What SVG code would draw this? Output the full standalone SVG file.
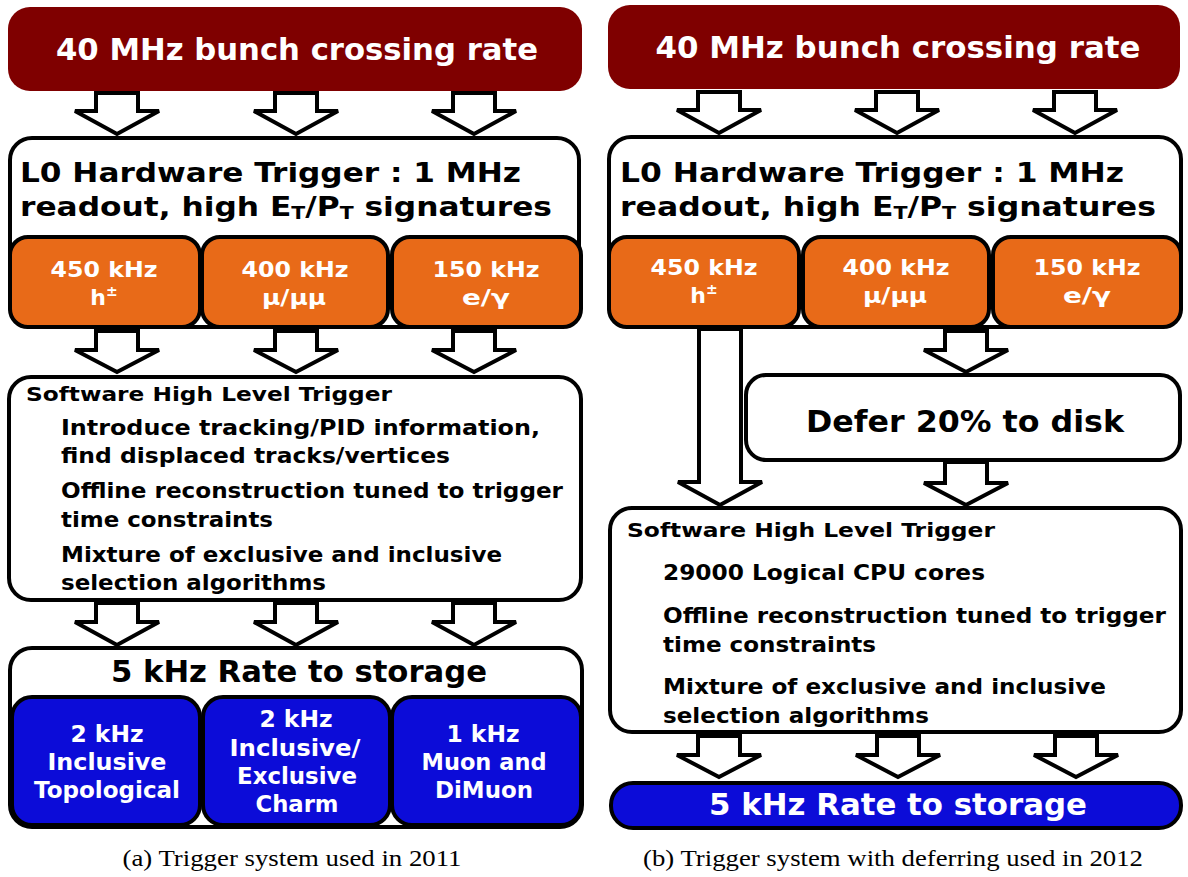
<svg xmlns="http://www.w3.org/2000/svg" width="1188" height="877" viewBox="0 0 1188 877">
<style>
.bg{fill:#ffffff}
.red{fill:#7f0000}
.wbox{fill:#ffffff;stroke:#000;stroke-width:4}
.org{fill:#e86a18;stroke:#000;stroke-width:4}
.blu{fill:#0c0cd8;stroke:#000;stroke-width:4}
.arr{fill:#ffffff;stroke:#000;stroke-width:4;stroke-linejoin:miter}
text{font-family:"DejaVu Sans",Verdana,sans-serif;font-weight:bold}
.w{fill:#ffffff}
.k{fill:#000000}
.c{text-anchor:middle}
.cap{font-family:"Liberation Serif","Times New Roman",serif;font-weight:normal;font-size:23px;fill:#000;text-anchor:middle}
</style>
<rect class="bg" x="0" y="0" width="1188" height="877"/>

<!-- LEFT PANEL -->
<g id="a-top">
<rect class="red" x="8" y="7" width="574" height="84" rx="22"/>
<text class="w c" x="297" y="60" font-size="30" textLength="482" lengthAdjust="spacingAndGlyphs">40 MHz bunch crossing rate</text>
</g>
<g id="a-l0">
<rect class="wbox" x="10" y="138" width="569" height="189" rx="22"/>
<text class="k" x="20" y="182" font-size="26" textLength="501" lengthAdjust="spacingAndGlyphs">L0 Hardware Trigger : 1 MHz</text>
<text class="k" x="20" y="216" font-size="26" textLength="532" lengthAdjust="spacingAndGlyphs">readout, high E<tspan font-size="17" dy="3">T</tspan><tspan dy="-3">/P</tspan><tspan font-size="17" dy="3">T</tspan><tspan dy="-3"> signatures</tspan></text>
</g>
<g id="a-h">
<rect class="org" x="10" y="237" width="190" height="90" rx="18"/>
<text class="w c" x="104" y="277" font-size="21" textLength="107" lengthAdjust="spacingAndGlyphs">450 kHz</text>
<text class="w c" x="104" y="305" font-size="22">h<tspan font-size="14" dy="-9">±</tspan></text>
</g>
<g id="a-mu">
<rect class="org" x="202" y="237" width="186" height="90" rx="18"/>
<text class="w c" x="295" y="277" font-size="21" textLength="107" lengthAdjust="spacingAndGlyphs">400 kHz</text>
<text class="w c" x="294" y="305" font-size="22" textLength="64" lengthAdjust="spacingAndGlyphs">μ/μμ</text>
</g>
<g id="a-e">
<rect class="org" x="392" y="237" width="189" height="90" rx="18"/>
<text class="w c" x="486" y="277" font-size="21" textLength="107" lengthAdjust="spacingAndGlyphs">150 kHz</text>
<text class="w c" x="486" y="305" font-size="22" textLength="48" lengthAdjust="spacingAndGlyphs">e/γ</text>
</g>
<g id="a-hlt">
<rect class="wbox" x="9" y="377" width="572" height="223" rx="22"/>
<text class="k" x="26" y="401" font-size="20" textLength="366" lengthAdjust="spacingAndGlyphs">Software High Level Trigger</text>
<text class="k" x="61" y="435" font-size="21" textLength="479" lengthAdjust="spacingAndGlyphs">Introduce tracking/PID information,</text>
<text class="k" x="61" y="463" font-size="21" textLength="389" lengthAdjust="spacingAndGlyphs">find displaced tracks/vertices</text>
<text class="k" x="61" y="498" font-size="21" textLength="502" lengthAdjust="spacingAndGlyphs">Offline reconstruction tuned to trigger</text>
<text class="k" x="61" y="527" font-size="21" textLength="212" lengthAdjust="spacingAndGlyphs">time constraints</text>
<text class="k" x="61" y="562" font-size="21" textLength="441" lengthAdjust="spacingAndGlyphs">Mixture of exclusive and inclusive</text>
<text class="k" x="61" y="590" font-size="21" textLength="265" lengthAdjust="spacingAndGlyphs">selection algorithms</text>
</g>
<g id="a-storage">
<rect class="wbox" x="10" y="648" width="572" height="179" rx="22"/>
<text class="k c" x="299" y="682" font-size="30" textLength="376" lengthAdjust="spacingAndGlyphs">5 kHz Rate to storage</text>
</g>
<g id="a-topo">
<rect class="blu" x="12" y="697" width="188" height="128" rx="20"/>
<text class="w c" x="107" y="742" font-size="23" textLength="73" lengthAdjust="spacingAndGlyphs">2 kHz</text>
<text class="w c" x="107" y="770" font-size="23" textLength="119" lengthAdjust="spacingAndGlyphs">Inclusive</text>
<text class="w c" x="107" y="798" font-size="23" textLength="146" lengthAdjust="spacingAndGlyphs">Topological</text>
</g>
<g id="a-charm">
<rect class="blu" x="203" y="697" width="187" height="128" rx="20"/>
<text class="w c" x="296" y="727" font-size="23" textLength="73" lengthAdjust="spacingAndGlyphs">2 kHz</text>
<text class="w c" x="295" y="756" font-size="23" textLength="131" lengthAdjust="spacingAndGlyphs">Inclusive/</text>
<text class="w c" x="297" y="784" font-size="23" textLength="120" lengthAdjust="spacingAndGlyphs">Exclusive</text>
<text class="w c" x="297" y="812" font-size="23" textLength="83" lengthAdjust="spacingAndGlyphs">Charm</text>
</g>
<g id="a-muon">
<rect class="blu" x="392" y="697" width="189" height="128" rx="20"/>
<text class="w c" x="483" y="742" font-size="23" textLength="73" lengthAdjust="spacingAndGlyphs">1 kHz</text>
<text class="w c" x="484" y="770" font-size="23" textLength="125" lengthAdjust="spacingAndGlyphs">Muon and</text>
<text class="w c" x="484" y="798" font-size="23" textLength="98" lengthAdjust="spacingAndGlyphs">DiMuon</text>
</g>
<text id="cap-a" class="cap" x="292" y="866" textLength="339" lengthAdjust="spacingAndGlyphs">(a) Trigger system used in 2011</text>

<!-- RIGHT PANEL -->
<g id="b-top">
<rect class="red" x="608" y="5" width="572" height="84" rx="22"/>
<text class="w c" x="898" y="58" font-size="30" textLength="485" lengthAdjust="spacingAndGlyphs">40 MHz bunch crossing rate</text>
</g>
<g id="b-l0">
<rect class="wbox" x="609" y="137" width="572" height="190" rx="22"/>
<text class="k" x="620" y="182" font-size="26" textLength="504" lengthAdjust="spacingAndGlyphs">L0 Hardware Trigger : 1 MHz</text>
<text class="k" x="620" y="216" font-size="26" textLength="536" lengthAdjust="spacingAndGlyphs">readout, high E<tspan font-size="17" dy="3">T</tspan><tspan dy="-3">/P</tspan><tspan font-size="17" dy="3">T</tspan><tspan dy="-3"> signatures</tspan></text>
</g>
<g id="b-h">
<rect class="org" x="609" y="237" width="190" height="90" rx="18"/>
<text class="w c" x="704" y="275" font-size="21" textLength="107" lengthAdjust="spacingAndGlyphs">450 kHz</text>
<text class="w c" x="704" y="303" font-size="22">h<tspan font-size="14" dy="-9">±</tspan></text>
</g>
<g id="b-mu">
<rect class="org" x="803" y="237" width="186" height="90" rx="18"/>
<text class="w c" x="896" y="275" font-size="21" textLength="107" lengthAdjust="spacingAndGlyphs">400 kHz</text>
<text class="w c" x="895" y="303" font-size="22" textLength="64" lengthAdjust="spacingAndGlyphs">μ/μμ</text>
</g>
<g id="b-e">
<rect class="org" x="993" y="237" width="188" height="90" rx="18"/>
<text class="w c" x="1087" y="275" font-size="21" textLength="107" lengthAdjust="spacingAndGlyphs">150 kHz</text>
<text class="w c" x="1087" y="303" font-size="22" textLength="48" lengthAdjust="spacingAndGlyphs">e/γ</text>
</g>
<g id="b-defer">
<rect class="wbox" x="746" y="375" width="434" height="85" rx="20"/>
<text class="k c" x="965" y="432" font-size="30" textLength="318" lengthAdjust="spacingAndGlyphs">Defer 20% to disk</text>
</g>
<g id="b-hlt">
<rect class="wbox" x="610" y="508" width="571" height="224" rx="22"/>
<text class="k" x="627" y="537" font-size="20" textLength="368" lengthAdjust="spacingAndGlyphs">Software High Level Trigger</text>
<text class="k" x="663" y="580" font-size="21" textLength="322" lengthAdjust="spacingAndGlyphs">29000 Logical CPU cores</text>
<text class="k" x="663" y="623" font-size="21" textLength="503" lengthAdjust="spacingAndGlyphs">Offline reconstruction tuned to trigger</text>
<text class="k" x="663" y="652" font-size="21" textLength="213" lengthAdjust="spacingAndGlyphs">time constraints</text>
<text class="k" x="663" y="694" font-size="21" textLength="443" lengthAdjust="spacingAndGlyphs">Mixture of exclusive and inclusive</text>
<text class="k" x="663" y="723" font-size="21" textLength="266" lengthAdjust="spacingAndGlyphs">selection algorithms</text>
</g>
<g id="b-storage">
<rect class="blu" x="611" y="783" width="570" height="45" rx="22"/>
<text class="w c" x="898" y="815" font-size="30" textLength="378" lengthAdjust="spacingAndGlyphs">5 kHz Rate to storage</text>
</g>
<text id="cap-b" class="cap" x="893" y="866" textLength="500" lengthAdjust="spacingAndGlyphs">(b) Trigger system with deferring used in 2012</text>

<!-- CONNECTORS -->
<g id="connectors">
<polygon class="arr" points="96,93 138,93 138,111 159,111 117,134 75,111 96,111"/>
<polygon class="arr" points="275,93 317,93 317,111 338,111 296,134 254,111 275,111"/>
<polygon class="arr" points="453,93 495,93 495,111 516,111 474,134 432,111 453,111"/>
<polygon class="arr" points="96,331 138,331 138,350 159,350 117,372 75,350 96,350"/>
<polygon class="arr" points="275,331 317,331 317,350 338,350 296,372 254,350 275,350"/>
<polygon class="arr" points="453,331 495,331 495,350 516,350 474,372 432,350 453,350"/>
<polygon class="arr" points="96,603 138,603 138,622 159,622 117,645 75,622 96,622"/>
<polygon class="arr" points="275,603 317,603 317,622 338,622 296,645 254,622 275,622"/>
<polygon class="arr" points="453,603 495,603 495,622 516,622 474,645 432,622 453,622"/>
<polygon class="arr" points="698,92 740,92 740,110 761,110 719,133 677,110 698,110"/>
<polygon class="arr" points="876,92 918,92 918,110 939,110 897,133 855,110 876,110"/>
<polygon class="arr" points="1054,92 1096,92 1096,110 1117,110 1075,133 1033,110 1054,110"/>
<polygon class="arr" points="699,329 741,329 741,482 762,482 720,505 678,482 699,482"/>
<polygon class="arr" points="945,331 987,331 987,350 1008,350 966,372 924,350 945,350"/>
<polygon class="arr" points="945,462 987,462 987,483 1008,483 966,505 924,483 945,483"/>
<polygon class="arr" points="698,736 740,736 740,755 761,755 719,777 677,755 698,755"/>
<polygon class="arr" points="877,736 919,736 919,755 940,755 898,777 856,755 877,755"/>
<polygon class="arr" points="1055,736 1097,736 1097,755 1118,755 1076,777 1034,755 1055,755"/>
</g>
</svg>
